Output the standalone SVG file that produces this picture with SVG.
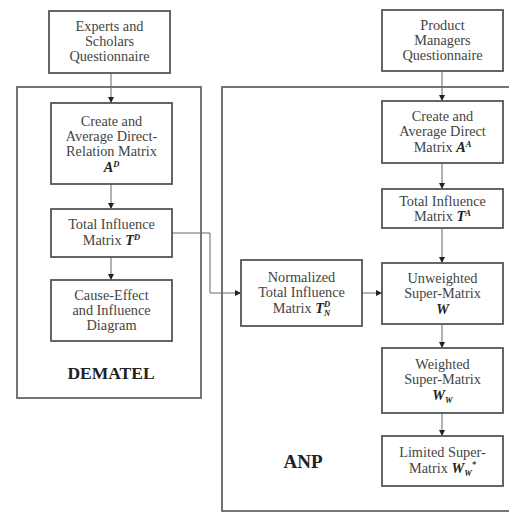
<svg xmlns="http://www.w3.org/2000/svg" width="509" height="513" viewBox="0 0 509 513">
<style>
.box{fill:#fff;stroke:#555;stroke-width:1.8}
.frame{fill:none;stroke:#666;stroke-width:1.8}
.t{font-family:"Liberation Serif","Times New Roman",serif;font-size:14.3px;fill:#444;text-anchor:middle}
.m{font-weight:bold;font-style:italic;fill:#222}
.s{font-size:8.5px}
.big{font-family:"Liberation Serif","Times New Roman",serif;font-weight:bold;font-size:17.5px;fill:#222;text-anchor:middle}
.c{fill:none;stroke:#666;stroke-width:1}
</style>
<defs>
<marker id="ah" viewBox="0 0 6 6" refX="6" refY="3" markerWidth="6" markerHeight="6" markerUnits="userSpaceOnUse" orient="auto">
<path d="M0,0 L6,3 L0,6 Z" fill="#222"/>
</marker>
</defs>
<rect width="509" height="513" fill="#fff"/>
<g id="dematel-frame">
<rect class="frame" x="17" y="87" width="184" height="311"/>
<text class="big" x="111" y="379">DEMATEL</text>
</g>
<g id="anp-frame">
<rect class="frame" x="222" y="87" width="300" height="424"/>
<text class="big" x="303" y="468" style="font-size:19px">ANP</text>
</g>
<g id="connectors">
<line class="c" x1="111" y1="73" x2="111" y2="103" marker-end="url(#ah)"/>
<line class="c" x1="111" y1="184" x2="111" y2="209" marker-end="url(#ah)"/>
<line class="c" x1="111" y1="257" x2="111" y2="280" marker-end="url(#ah)"/>
<polyline class="c" points="172,233 210,233 210,293 241,293" marker-end="url(#ah)"/>
<line class="c" x1="442" y1="71" x2="442" y2="101" marker-end="url(#ah)"/>
<line class="c" x1="442" y1="163" x2="442" y2="189" marker-end="url(#ah)"/>
<line class="c" x1="442" y1="228" x2="442" y2="263" marker-end="url(#ah)"/>
<line class="c" x1="362" y1="293" x2="382" y2="293" marker-end="url(#ah)"/>
<line class="c" x1="442" y1="324" x2="442" y2="348" marker-end="url(#ah)"/>
<line class="c" x1="442" y1="413" x2="442" y2="436" marker-end="url(#ah)"/>
</g>
<g id="experts">
<rect class="box" x="49" y="11" width="121" height="62"/>
<text class="t" x="109.5" y="31">Experts and</text>
<text class="t" x="109.5" y="46">Scholars</text>
<text class="t" x="109.5" y="61">Questionnaire</text>
</g>
<g id="create-d">
<rect class="box" x="51" y="103" width="121" height="81"/>
<text class="t" x="111.5" y="126">Create and</text>
<text class="t" x="111.5" y="141">Average Direct-</text>
<text class="t" x="111.5" y="156">Relation Matrix</text>
<text class="t" x="111.5" y="172"><tspan class="m">A</tspan><tspan class="m s" dy="-5">D</tspan></text>
</g>
<g id="total-d">
<rect class="box" x="51" y="209" width="121" height="48"/>
<text class="t" x="111.5" y="229">Total Influence</text>
<text class="t" x="111.5" y="245">Matrix <tspan class="m">T</tspan><tspan class="m s" dy="-5">D</tspan></text>
</g>
<g id="cause-effect">
<rect class="box" x="51" y="280" width="121" height="61"/>
<text class="t" x="111.5" y="300">Cause-Effect</text>
<text class="t" x="111.5" y="315">and Influence</text>
<text class="t" x="111.5" y="330">Diagram</text>
</g>
<g id="product">
<rect class="box" x="382" y="10" width="121" height="61"/>
<text class="t" x="442.5" y="30">Product</text>
<text class="t" x="442.5" y="45">Managers</text>
<text class="t" x="442.5" y="60">Questionnaire</text>
</g>
<g id="create-a">
<rect class="box" x="382" y="101" width="121" height="62"/>
<text class="t" x="442.5" y="121">Create and</text>
<text class="t" x="442.5" y="136">Average Direct</text>
<text class="t" x="442.5" y="152">Matrix <tspan class="m">A</tspan><tspan class="m s" dy="-5">A</tspan></text>
</g>
<g id="total-a">
<rect class="box" x="382" y="189" width="121" height="39"/>
<text class="t" x="442.5" y="206">Total Influence</text>
<text class="t" x="442.5" y="221">Matrix <tspan class="m">T</tspan><tspan class="m s" dy="-5">A</tspan></text>
</g>
<g id="normalized">
<rect class="box" x="241" y="260" width="121" height="66"/>
<text class="t" x="301.5" y="282">Normalized</text>
<text class="t" x="301.5" y="297">Total Influence</text>
<text class="t" x="301.5" y="313">Matrix <tspan class="m">T</tspan><tspan class="m s" dy="-6">D</tspan><tspan class="m s" dx="-6" dy="9">N</tspan></text>
</g>
<g id="unweighted">
<rect class="box" x="382" y="263" width="121" height="61"/>
<text class="t" x="442.5" y="283">Unweighted</text>
<text class="t" x="442.5" y="298">Super-Matrix</text>
<text class="t m" x="442.5" y="314">W</text>
</g>
<g id="weighted">
<rect class="box" x="382" y="348" width="121" height="65"/>
<text class="t" x="442.5" y="369">Weighted</text>
<text class="t" x="442.5" y="384">Super-Matrix</text>
<text class="t" x="442.5" y="400"><tspan class="m">W</tspan><tspan class="m s" dy="3">W</tspan></text>
</g>
<g id="limited">
<rect class="box" x="382" y="436" width="121" height="50"/>
<text class="t" x="442.5" y="457">Limited Super-</text>
<text class="t" x="442.5" y="473">Matrix <tspan class="m">W</tspan><tspan class="m s" dy="3">W</tspan><tspan class="m s" dy="-9">*</tspan></text>
</g>
</svg>
